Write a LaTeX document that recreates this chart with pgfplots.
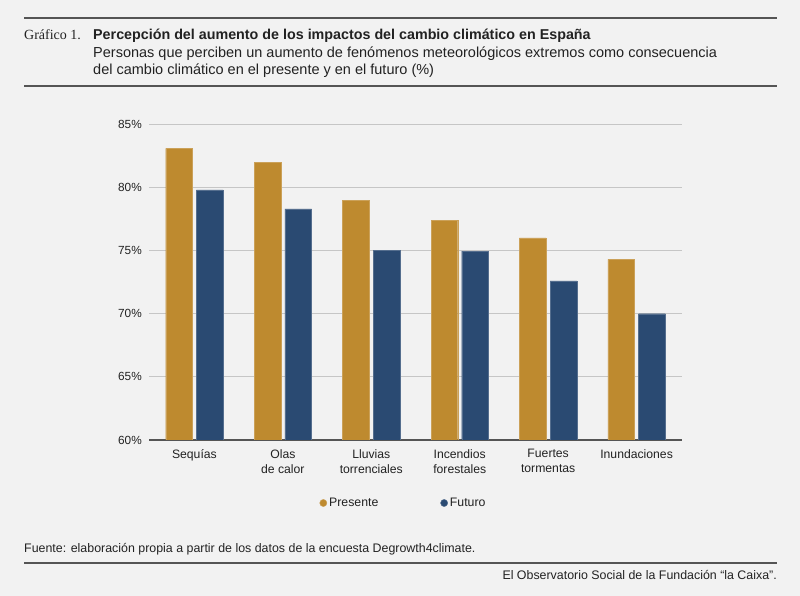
\documentclass[border=0pt]{standalone}
\usepackage{pgfplots}
\pgfplotsset{compat=1.18}
\usepackage{fontspec}
\setmainfont{Liberation Sans}
\newfontfamily\serifname{Liberation Serif}
\definecolor{bgc}{HTML}{F2F2F2}
\definecolor{gold}{HTML}{BE8A2F}
\definecolor{navy}{HTML}{2A4A72}
\definecolor{txt}{HTML}{222222}
\definecolor{rule}{HTML}{555555}
\begin{document}
\begin{tikzpicture}[x=1pt,y=1pt]
\fill[bgc] (0,0) rectangle (800,596);
\useasboundingbox (0,0) rectangle (800,596);
% header rules
\draw[rule,line width=1.6pt] (24,578) -- (777,578);
\draw[rule,line width=1.6pt] (24,510) -- (777,510);
\draw[rule,line width=1.6pt] (24,33) -- (777,33);
\node[anchor=base west,inner sep=0,text=txt,font=\serifname\fontsize{14}{16}\selectfont] at (24,556.5) {Gráfico 1.};
\node[anchor=base west,inner sep=0,text=txt,font=\bfseries\fontsize{14.3}{16}\selectfont] at (93,556.5) {Percepción del aumento de los impactos del cambio climático en España};
\node[anchor=base west,inner sep=0,text=txt,font=\fontsize{14.5}{16}\selectfont] at (93,538.5) {Personas que perciben un aumento de fenómenos meteorológicos extremos como consecuencia};
\node[anchor=base west,inner sep=0,text=txt,font=\fontsize{14.5}{16}\selectfont] at (93,521.5) {del cambio climático en el presente y en el futuro (\%)};
\node[anchor=base west,inner sep=0,text=txt,font=\fontsize{12.4}{14}\selectfont] at (24,43) {Fuente: elaboración propia a partir de los datos de la encuesta Degrowth4climate.};
\node[anchor=base east,inner sep=0,text=txt,font=\fontsize{12.4}{14}\selectfont] at (777,16) {El Observatorio Social de la Fundación “la Caixa”.};
\begin{axis}[
  at={(149.3pt,156pt)}, anchor=south west,
  scale only axis, width=532.4pt, height=315.7pt,
  ybar=4pt, bar width=26.7pt,
  xmin=-0.51, xmax=5.51, ymin=60, ymax=85,
  xtick=data,
  xticklabels={Sequías,{Olas\\de calor},{Lluvias\\torrenciales},{Incendios\\forestales},{Fuertes\\tormentas},Inundaciones},
  xticklabel style={align=center,font=\fontsize{12.2}{15}\selectfont,text=txt,yshift=-6pt},
  ytick={60,65,...,85},
  yticklabel={\pgfmathprintnumber{\tick}\%},
  yticklabel style={font=\fontsize{11.8}{13}\selectfont,text=txt,xshift=-4pt},
  /pgf/number format/assume math mode=true,
  ymajorgrids, grid style={color=gray!45,line width=0.9pt},
  axis x line*=bottom, axis y line*=left,
  y axis line style={draw=none},
  x axis line style={draw=rule,line width=1.2pt,-},
  major tick length=0pt,
  legend style={at={(0.4775,-0.1996)},anchor=center,draw=none,fill=none,
    legend columns=2,font=\fontsize{12.3}{14}\selectfont,text=txt,
    /tikz/every even column/.append style={column sep=60pt}},
  legend image code/.code={\fill[#1] (0pt,0pt) circle (3.6pt);},
]
\addplot[fill=gold,draw=gold!80!white,line width=0.4pt] coordinates {(0,83.1) (1,82.0) (2,79.0) (3,77.4) (4,76.0) (5,74.3)};
\addplot[fill=navy,draw=navy!80!white,line width=0.4pt] coordinates {(0,79.8) (1,78.3) (2,75.0) (3,74.95) (4,72.6) (5,70.0)};
\legend{Presente,Futuro}
\end{axis}
\end{tikzpicture}
\end{document}
